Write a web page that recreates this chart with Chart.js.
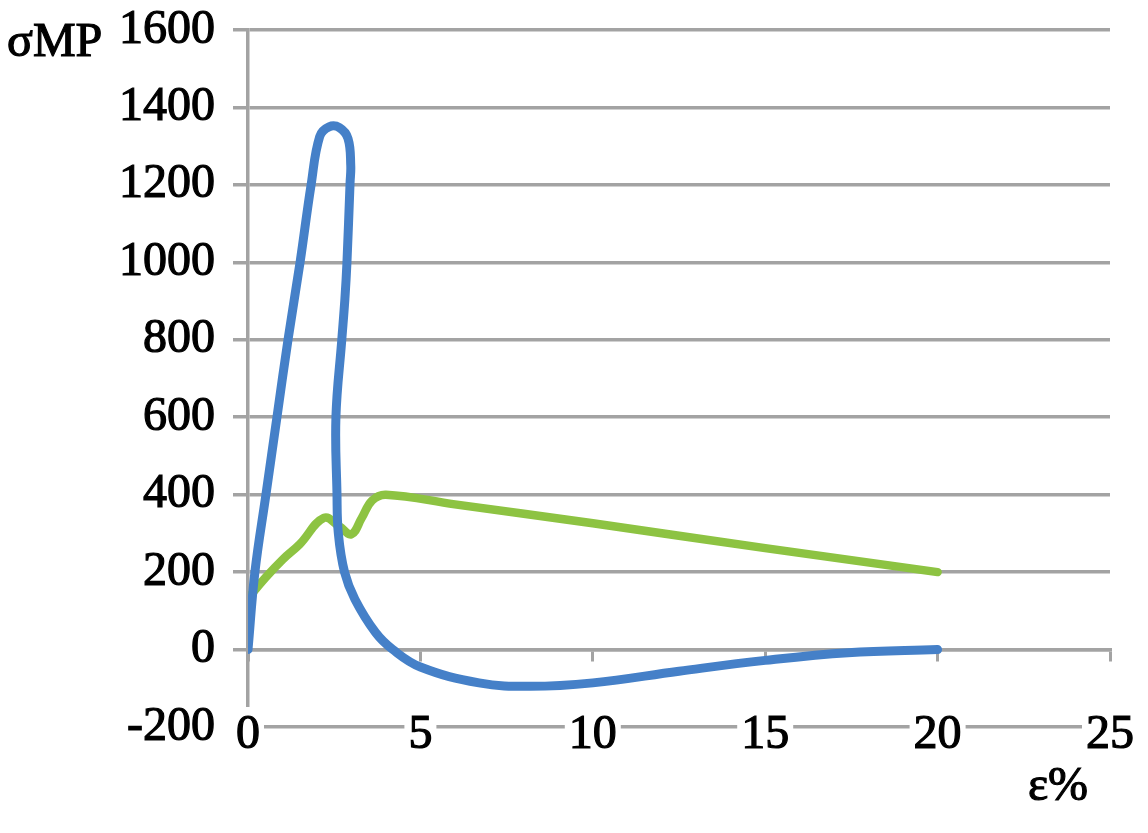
<!DOCTYPE html>
<html>
<head>
<meta charset="utf-8">
<script src="https://cdn.jsdelivr.net/npm/chart.js@4.4.1/dist/chart.umd.min.js"></script>
<style>
  html, body { margin: 0; padding: 0; background: #fff; }
  #wrap { width: 1148px; height: 833px; }
</style>
</head>
<body>
<div id="wrap"><canvas id="myChart" width="1148" height="833"></canvas></div>
<script>
// valores
const blueX = [0, 0.2, 0.52, 0.84, 1.16, 1.51, 1.83, 2.08, 2.35, 2.65, 2.9, 2.98, 2.96, 2.87, 2.81, 2.72, 2.55, 2.58, 2.62, 2.8, 3.1, 3.7, 4.2, 5, 6.7, 8.2, 10, 12.5, 15, 17.4, 20];
const blueY = [0, 200, 400, 600, 800, 1000, 1200, 1325, 1350, 1348, 1320, 1250, 1205, 1000, 905, 800, 600, 405, 300, 200, 130, 44, 0, -45, -86, -95, -86, -56, -28, -8, 0];

const greenX = [0, 0.5, 1.0, 1.5, 2.2, 2.65, 3.0, 3.3, 3.6, 4.0, 6, 10, 15, 20];
const greenY = [132, 185, 232, 272, 340, 318, 298, 340, 385, 400, 375, 326, 262, 200];

const xTicks = [0, 5, 10, 15, 20, 25];
const yTitle = 'σMP';
const xTitle = 'ε%';

const gridColor = '#a3a3a3';
const labelFont = { family: '"Liberation Serif"', size: 48 };

function toPoints(xs, ys) {
    return xs.map((x, i) => ({ x: x, y: ys[i] }));
}

// textos de los ejes (arriba a la izquierda y abajo a la derecha)
const axisTexts = {
    id: 'axisTexts',
    afterDraw(chart) {
        const c = chart.ctx;
        c.save();
        c.font = '48px "Liberation Serif"';
        c.fillStyle = '#000';
        c.strokeStyle = '#000';
        c.lineWidth = 1.2;
        c.textBaseline = 'middle';
        c.textAlign = 'left';
        c.fillText(yTitle, 7, 43);
        c.strokeText(yTitle, 7, 43);
        c.textAlign = 'center';
        c.fillText(xTitle, 1058, 787);
        c.strokeText(xTitle, 1058, 787);
        c.restore();
    }
};

const ctx = document.getElementById('myChart').getContext('2d');
const myChart = new Chart(ctx, {
    type: 'scatter',
    data: {
        datasets: [
            {
                label: 'blue',
                data: toPoints(blueX, blueY),
                showLine: true,
                borderColor: '#4580c8',
                borderWidth: 9,
                pointRadius: 0,
                tension: 0.4,
                fill: false,
                borderCapStyle: 'round',
                borderJoinStyle: 'round'
            },
            {
                label: 'green',
                data: toPoints(greenX, greenY),
                showLine: true,
                borderColor: '#8dc342',
                borderWidth: 8.5,
                pointRadius: 0,
                tension: 0.4,
                fill: false,
                borderCapStyle: 'round',
                borderJoinStyle: 'round'
            }
        ]
    },
    options: {
        responsive: false,
        animation: false,
        layout: {
            padding: { left: 101, right: 38, top: 30, bottom: 106 }
        },
        plugins: {
            legend: { display: false },
            tooltip: { enabled: false }
        },
        scales: {
            x: {
                type: 'linear',
                position: { y: -200 },
                min: 0,
                max: 25,
                afterBuildTicks: (scale) => { scale.ticks = xTicks.map(v => ({ value: v })); },
                grid: { display: false, drawTicks: false },
                border: { display: false },
                ticks: {
                    color: '#000',
                    font: labelFont,
                    textStrokeColor: '#000',
                    textStrokeWidth: 1.2,
                    padding: -20,
                    maxRotation: 0,
                    z: 1,
                    showLabelBackdrop: true,
                    backdropColor: '#fff',
                    backdropPadding: { left: 4, right: 4, top: 0, bottom: 0 }
                }
            },
            x2: {
                type: 'linear',
                axis: 'x',
                position: { y: 0 },
                min: 0,
                max: 25,
                afterBuildTicks: (scale) => { scale.ticks = xTicks.map(v => ({ value: v })); },
                grid: {
                    drawOnChartArea: false,
                    drawTicks: true,
                    tickLength: 10,
                    color: gridColor,
                    lineWidth: 3
                },
                border: { color: gridColor, width: 3.5 },
                ticks: { display: false }
            },
            y: {
                type: 'linear',
                position: 'left',
                min: -200,
                max: 1600,
                ticks: {
                    stepSize: 200,
                    color: '#000',
                    font: { family: '"Liberation Serif"', size: 48, lineHeight: 0.5 },
                    textStrokeColor: '#000',
                    textStrokeWidth: 1.2,
                    padding: 18,
                    callback: (v) => String(v)
                },
                grid: {
                    color: gridColor,
                    lineWidth: 3.5,
                    tickLength: 15
                },
                border: { color: gridColor, width: 3.5 }
            }
        }
    },
    plugins: [axisTexts]
});
</script>
</body>
</html>
